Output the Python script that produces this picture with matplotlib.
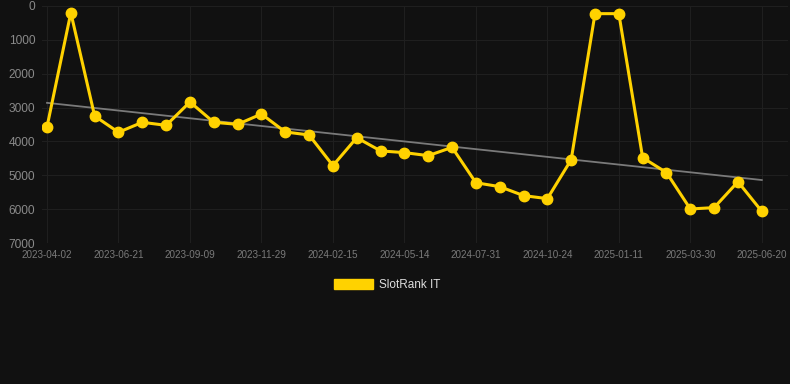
import numpy as np
import matplotlib
matplotlib.use('Agg')
import matplotlib.pyplot as plt
from matplotlib.patches import Patch

plt.rcParams['font.family'] = ['Liberation Sans', 'DejaVu Sans']

# rank values per snapshot (lower = better, axis reversed)
ranks = [3570, 200, 3250, 3730, 3435, 3525, 2835, 3435, 3495, 3190,
         3720, 3810, 4715, 3890, 4280, 4330, 4420, 4175, 5220, 5335,
         5600, 5690, 4540, 226, 226, 4480, 4920, 5995, 5955, 5190, 6065]
tick_labels = ['2023-04-02', '2023-06-21', '2023-09-09', '2023-11-29',
               '2024-02-15', '2024-05-14', '2024-07-31', '2024-10-24',
               '2025-01-11', '2025-03-30', '2025-06-20']
# trend line start / end values
trend_ends = [2860, 5140]
y_ticks = [0, 1000, 2000, 3000, 4000, 5000, 6000, 7000]

bg = '#111111'
gold = '#FFD200'

fig = plt.figure(figsize=(7.9, 3.84), dpi=100, facecolor=bg)
ax = fig.add_axes([42/790, 1-243/384, (788-42)/790, (243-6)/384])
ax.set_facecolor(bg)

x = np.arange(len(ranks))
ax.plot([x[0], x[-1]], trend_ends, color='#7a7a7a', lw=1.3, zorder=2)
ax.plot(x, ranks, color=gold, lw=2.2, marker='o', ms=7.5, zorder=3)

ax.set_ylim(7000, 0)
ax.set_xlim(-0.21, 31.1)
ax.set_yticks(y_ticks)
ax.set_yticklabels([str(v) for v in y_ticks])
ax.set_xticks(x[::3])
ax.set_xticklabels(tick_labels)

ax.grid(True, color='#1f1f1f', lw=0.8)
for s in ax.spines.values():
    s.set_visible(False)
ax.tick_params(axis='y', length=0, pad=5, labelsize=8.6, labelcolor='#8a8a8a')
ax.tick_params(axis='x', length=0, pad=5, labelsize=7.1, labelcolor='#7a7a7a')

fig.legend(handles=[Patch(facecolor=gold, edgecolor=gold)], labels=['SlotRank IT'],
           loc='center', bbox_to_anchor=(0.49, 1-285/384), frameon=False,
           fontsize=8.5, labelcolor='#dddddd', handlelength=3.3, handleheight=0.85,
           handletextpad=0.55)

fig.savefig('out.png', dpi=100, facecolor=bg)
